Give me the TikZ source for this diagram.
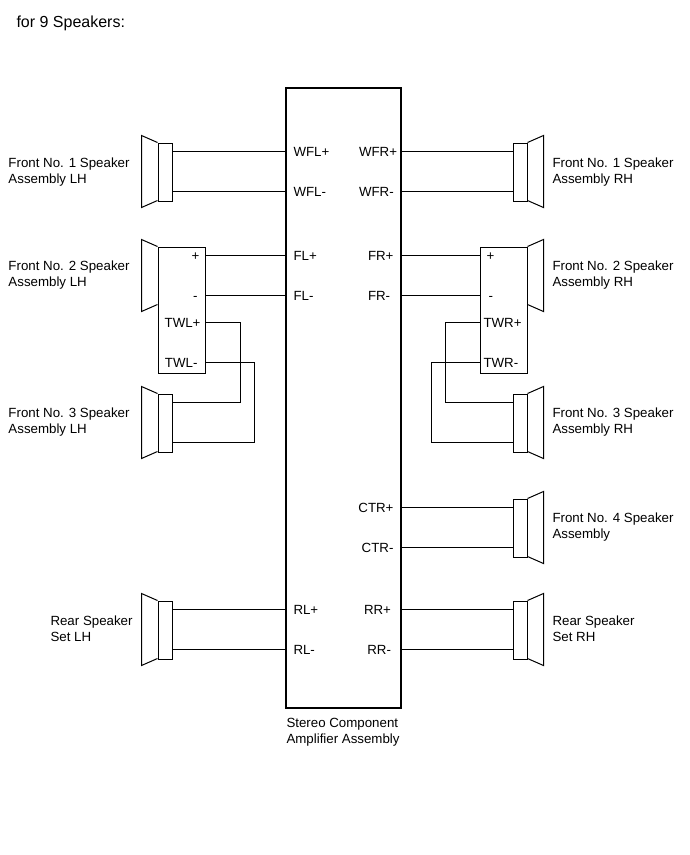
\documentclass[tikz,border=0pt]{standalone}
\usepackage{fontspec}
\setmainfont{Liberation Sans}
\tikzset{
	spkbox/.style={draw, line width=1pt, inner sep=0pt, minimum width=14pt, minimum height=58pt},
	ampbox/.style={draw, line width=2pt, inner sep=0pt, minimum width=115pt, minimum height=620pt},
	pinlbl/.style={inner sep=0pt, text height=10pt, text depth=0pt},
	capt/.style={inner sep=0pt, anchor=west, align=left},
}
\begin{document}
\begin{tikzpicture}[x=1pt, y=-1pt, line width=1pt, font=\fontsize{13.3}{16}\selectfont]
	\useasboundingbox (0,0) rectangle (690,855);
	\node[capt, font=\fontsize{16}{18}\selectfont] (title) at (16,23) {for 9 Speakers:};

	\node[ampbox] (amp) at (343.5,398) {};
	\node[capt] (ampcap) at (286,732) {Stereo Component\\Amplifier Assembly};

	\node[spkbox] (sl1) at (165,172) {};
	\node[spkbox, minimum width=47pt, minimum height=126pt] (sl2) at (181.5,310) {};
	\node[spkbox] (sl3) at (165,423) {};
	\node[spkbox] (sl4) at (165,630) {};
	\node[spkbox] (sr1) at (520,172) {};
	\node[spkbox, minimum width=47pt, minimum height=126pt] (sr2) at (503.5,310) {};
	\node[spkbox] (sr3) at (520,423) {};
	\node[spkbox] (sr4) at (520,528) {};
	\node[spkbox] (sr5) at (520,630) {};

	\foreach \n in {sl1,sl2,sl3,sl4}
		\draw (\n.north west) -- ++(-16,-7) -- ++(0,72) -- ++(16,-7);
	\foreach \n in {sr1,sr2,sr3,sr4,sr5}
		\draw (\n.north east) -- ++(16,-7) -- ++(0,72) -- ++(-16,-7);

	\node[capt] (cl1) at (8,172) {Front No. 1 Speaker\\Assembly LH};
	\node[capt] (cl2) at (8,275) {Front No. 2 Speaker\\Assembly LH};
	\node[capt] (cl3) at (8,422) {Front No. 3 Speaker\\Assembly LH};
	\node[capt] (cl4) at (50,628.5) {Rear Speaker\\Set LH};
	\node[capt] (cr1) at (552,172) {Front No. 1 Speaker\\Assembly RH};
	\node[capt] (cr2) at (552,275) {Front No. 2 Speaker\\Assembly RH};
	\node[capt] (cr3) at (552,422) {Front No. 3 Speaker\\Assembly RH};
	\node[capt] (cr4) at (552,527) {Front No. 4 Speaker\\Assembly};
	\node[capt] (cr5) at (552,628.5) {Rear Speaker\\Set RH};

	% pins on the amplifier
	\node[pinlbl, anchor=west] (wflp) at (293,151) {WFL+};
	\node[pinlbl, anchor=west] (wflm) at (293,191) {WFL-};
	\node[pinlbl, anchor=west] (flp) at (293,255) {FL+};
	\node[pinlbl, anchor=west] (flm) at (293,295) {FL-};
	\node[pinlbl, anchor=west] (rlp) at (293,609) {RL+};
	\node[pinlbl, anchor=west] (rlm) at (293,649) {RL-};
	\node[pinlbl, anchor=west] (wfrp) at (358.5,151) {WFR+};
	\node[pinlbl, anchor=west] (wfrm) at (358.5,191) {WFR-};
	\node[pinlbl, anchor=west] (frp) at (367.5,255) {FR+};
	\node[pinlbl, anchor=west] (frm) at (367.5,295) {FR-};
	\node[pinlbl, anchor=east] (ctrp) at (394,507) {CTR+};
	\node[pinlbl, anchor=east] (ctrm) at (394,547) {CTR-};
	\node[pinlbl, anchor=east] (rrp) at (391.5,609) {RR+};
	\node[pinlbl, anchor=east] (rrm) at (391.5,649) {RR-};

	% pins on the woofers
	\node[pinlbl, anchor=east] (slp) at (200,255) {+};
	\node[pinlbl, anchor=east] (slm) at (198,295) {-};
	\node[pinlbl, anchor=east] (twlp) at (201,322) {TWL+};
	\node[pinlbl, anchor=east] (twlm) at (198,362) {TWL-};
	\node[pinlbl, anchor=west] (srp) at (486,255) {+};
	\node[pinlbl, anchor=west] (srm) at (488,295) {-};
	\node[pinlbl, anchor=west] (twrp) at (483,322) {TWR+};
	\node[pinlbl, anchor=west] (twrm) at (483,362) {TWR-};

	\coordinate (jlp) at (240,402);
	\coordinate (jlm) at (254,442);
	\coordinate (jrp) at (445,402);
	\coordinate (jrm) at (431,442);

	\foreach \p/\n in {wflp/sl1,wflm/sl1,flp/sl2,flm/sl2,rlp/sl4,rlm/sl4}
		\draw (amp.west |- \p) -- (\n.east |- \p);
	\foreach \p/\n in {wfrp/sr1,wfrm/sr1,frp/sr2,frm/sr2,ctrp/sr4,ctrm/sr4,rrp/sr5,rrm/sr5}
		\draw (amp.east |- \p) -- (\n.west |- \p);

	\draw (sl2.east |- twlp) -| (jlp) -- (sl3.east |- jlp);
	\draw (sl2.east |- twlm) -| (jlm) -- (sl3.east |- jlm);
	\draw (sr2.west |- twrp) -| (jrp) -- (sr3.west |- jrp);
	\draw (sr2.west |- twrm) -| (jrm) -- (sr3.west |- jrm);
\end{tikzpicture}
\end{document}
